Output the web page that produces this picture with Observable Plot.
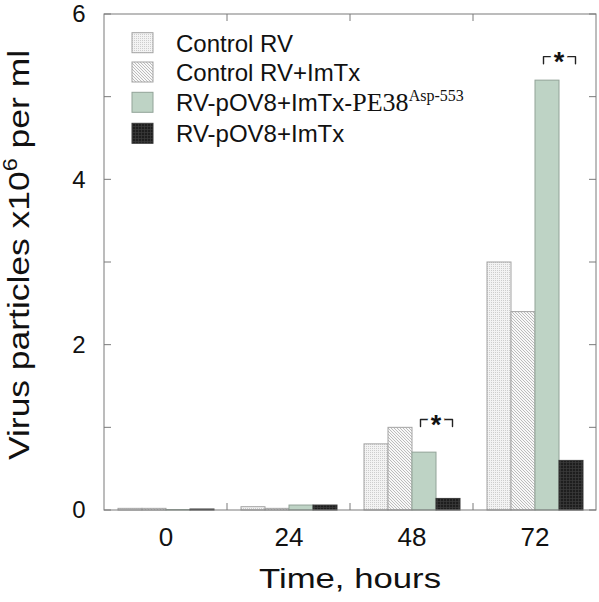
<!DOCTYPE html>
<html><head><meta charset="utf-8">
<script src="https://cdn.jsdelivr.net/npm/d3@7"></script>
<script src="https://cdn.jsdelivr.net/npm/@observablehq/plot@0.6"></script>
<style>
body{margin:0;background:#fff}
#chart{position:relative;width:599px;height:602px}
</style>
</head><body><div id="chart"></div>
<script>
// ---- data ----
const times = ["0", "24", "48", "72"];
const seriesNames = ["Control RV", "Control RV+ImTx", "RV-pOV8+ImTx-PE38Asp-553", "RV-pOV8+ImTx"];
const controlRV     = [0.02, 0.04, 0.80, 3.00];
const controlRVImTx = [0.02, 0.02, 1.00, 2.40];
const pe38ImTx      = [0.006, 0.06, 0.70, 5.20];
const pOV8ImTx      = [0.012, 0.06, 0.14, 0.60];
const yTicks = [0, 2, 4, 6];
const yAllTicks = [0, 1, 2, 3, 4, 5, 6];
const sigTimes = ["48", "72"];
const sigY = [1.10, 5.49];
const xTitle = "Time, hours";
const yTitleParts = ["Virus particles x10", "6", " per ml"];
const legendLabels = ["Control RV", "Control RV+ImTx", "RV-pOV8+ImTx-", "RV-pOV8+ImTx"];

// ---- styles ----
const fills = ["url(#pDots)", "url(#pHatch)", "#bed3c5", "url(#pBlack)"];
const strokes = ["#a4a4a4", "#a4a4a4", "#92a398", "#3a3a3a"];
const sans = "'Liberation Sans', Arial, Helvetica, sans-serif";
const serif = "'Liberation Serif', 'Times New Roman', serif";

const allValues = [controlRV, controlRVImTx, pe38ImTx, pOV8ImTx];
const data = times.flatMap((t, i) => seriesNames.map((s, k) => ({time: t, series: s, value: allValues[k][i]})));

const green = seriesNames[2], black = seriesNames[3];
const drop = 0.085;
const bracketLeft = sigTimes.flatMap((t, i) => [
  {time: t, series: green, y: sigY[i] - drop, k: i},
  {time: t, series: green, y: sigY[i], k: i},
  {time: t, series: black, y: sigY[i], k: i}
]);
const bracketRight = sigTimes.flatMap((t, i) => [
  {time: t, series: green, y: sigY[i], k: i},
  {time: t, series: black, y: sigY[i], k: i},
  {time: t, series: black, y: sigY[i] - drop, k: i}
]);
const stars = sigTimes.map((t, i) => ({time: t, series: black, y: sigY[i]}));

const plot = Plot.plot({
  width: 599, height: 602,
  marginLeft: 102, marginRight: 2, marginTop: 14, marginBottom: 92,
  style: {fontFamily: sans, color: "#111", background: "#fff"},
  fx: {domain: times, padding: 0, label: null},
  x: {domain: seriesNames, paddingInner: 0, paddingOuter: 0.476, axis: null},
  y: {domain: [0, 6], label: null},
  marks: [
    ...seriesNames.map((s, k) => Plot.barY(data.filter(d => d.series === s), {
      fx: "time", x: "series", y: "value", fill: fills[k], stroke: strokes[k], strokeWidth: 1
    })),
    Plot.axisY({anchor: "left", ticks: yTicks, tickFormat: d => String(d), tickSize: 0, tickPadding: 19, fontSize: 24, label: null}),
    Plot.axisFx({anchor: "bottom", tickSize: 0, tickPadding: 17, fontSize: 26, label: null}),
    Plot.line(bracketLeft, {fx: "time", x: "series", y: "y", z: "k", dx: -4, stroke: "#222", strokeWidth: 1.4}),
    Plot.line(bracketRight, {fx: "time", x: "series", y: "y", z: "k", dx: 4, stroke: "#222", strokeWidth: 1.4}),
    Plot.text(stars, {fx: "time", x: "series", y: "y", text: () => "*", dx: -12.4, dy: 6,
      fontSize: 27, fontWeight: "bold", fill: "#111", stroke: "white", strokeWidth: 6})
  ]
});

document.getElementById("chart").appendChild(plot);

// ---- patterns, frame, ticks, legend, titles ----
const svg = d3.select(plot);
const defs = svg.insert("defs", ":first-child");
const pd = defs.append("pattern").attr("id", "pDots").attr("patternUnits", "userSpaceOnUse").attr("width", 2).attr("height", 2);
pd.append("rect").attr("width", 2).attr("height", 2).attr("fill", "#f3f3f3");
pd.append("rect").attr("width", 1).attr("height", 1).attr("fill", "#cdcdcd");
const ph = defs.append("pattern").attr("id", "pHatch").attr("patternUnits", "userSpaceOnUse").attr("width", 3).attr("height", 3);
ph.append("rect").attr("width", 3).attr("height", 3).attr("fill", "#f8f8f8");
ph.append("path").attr("d", "M-1,-1L4,4M-1,2L1,4M2,-1L4,1").attr("stroke", "#acacac").attr("stroke-width", 0.8);
const pb = defs.append("pattern").attr("id", "pBlack").attr("patternUnits", "userSpaceOnUse").attr("width", 3).attr("height", 3);
pb.append("rect").attr("width", 3).attr("height", 3).attr("fill", "#1e1e1e");
pb.append("path").attr("d", "M0,0.5H3M0.5,0V3").attr("stroke", "#3c3c3c").attr("stroke-width", 0.7);

const fx = plot.scale("fx"), y = plot.scale("y");
const x0 = fx.apply(times[0]);
const x1 = fx.apply(times[times.length - 1]) + fx.bandwidth;
const yTop = y.apply(6), yBot = y.apply(0);
const fr = svg.append("g").attr("stroke", "#7a7a7a").attr("fill", "none").attr("stroke-width", 1);
fr.append("rect").attr("x", x0).attr("y", yTop).attr("width", x1 - x0).attr("height", yBot - yTop);
const tl = 7;
yAllTicks.forEach(v => {
  const yy = y.apply(v);
  fr.append("line").attr("x1", x0).attr("x2", x0 + tl).attr("y1", yy).attr("y2", yy);
  fr.append("line").attr("x1", x1).attr("x2", x1 - tl).attr("y1", yy).attr("y2", yy);
});
times.slice(1).forEach(t => {
  const xx = fx.apply(t);
  fr.append("line").attr("x1", xx).attr("x2", xx).attr("y1", yBot).attr("y2", yBot - tl);
  fr.append("line").attr("x1", xx).attr("x2", xx).attr("y1", yTop).attr("y2", yTop + tl);
});

// legend
const lg = svg.append("g").attr("text-anchor", "start");
const rowY = [42.7, 72, 102.3, 133.3];
legendLabels.forEach((lab, k) => {
  lg.append("rect").attr("x", 132).attr("y", rowY[k] - 10).attr("width", 21).attr("height", 20)
    .attr("fill", fills[k]).attr("stroke", strokes[k]).attr("stroke-width", 1);
  const t = lg.append("text").attr("x", 176).attr("y", rowY[k] + 9).attr("text-anchor", "start")
    .attr("font-family", sans).attr("font-size", 24).attr("fill", "#111").text(lab);
  if (k === 2) {
    t.append("tspan").attr("font-family", serif).attr("font-size", 26).text("PE38");
    t.append("tspan").attr("font-family", serif).attr("font-size", 16).attr("dy", -10).text("Asp-553");
  }
});

// axis titles
svg.append("text").attr("x", (x0 + x1) / 2).attr("y", 588).attr("text-anchor", "middle")
  .attr("font-family", sans).attr("font-size", 28).attr("fill", "#111")
  .attr("textLength", 182).attr("lengthAdjust", "spacingAndGlyphs").text(xTitle);
const yt = svg.append("text").attr("transform", "translate(29,255) rotate(-90)").attr("text-anchor", "middle")
  .attr("font-family", sans).attr("font-size", 30).attr("fill", "#111")
  .attr("textLength", 410).attr("lengthAdjust", "spacingAndGlyphs");
yt.append("tspan").text(yTitleParts[0]);
yt.append("tspan").attr("font-size", 20).attr("dy", -12).text(yTitleParts[1]);
yt.append("tspan").attr("dy", 12).text(yTitleParts[2]);
</script>
</body></html>
